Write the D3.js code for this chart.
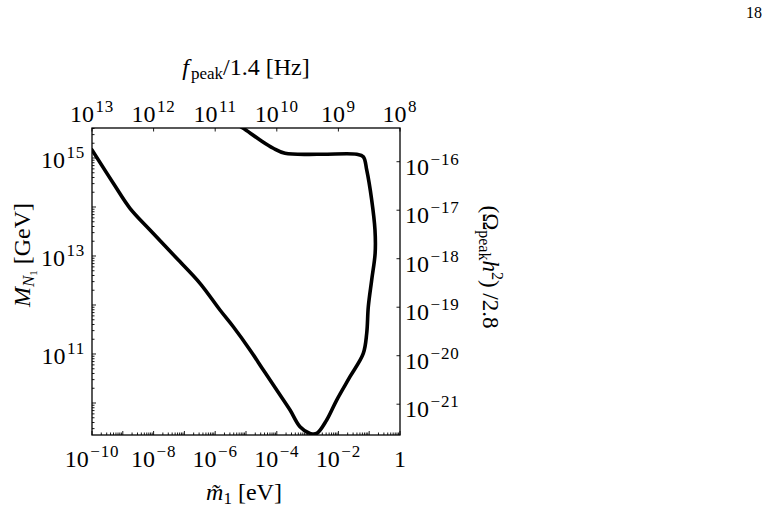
<!DOCTYPE html>
<html>
<head>
<meta charset="utf-8">
<script src="https://cdn.jsdelivr.net/npm/d3@7"></script>
<style>
  html, body { margin: 0; padding: 0; background: #fff; }
  svg { display: block; }
  text { font-family: "Liberation Serif", "DejaVu Serif", serif; fill: #000; }
</style>
</head>
<body>
<svg id="chart" width="772" height="516"></svg>
<script>
// ---- data ----
// contour: m~1 [eV] vs M_N1 [GeV]
const mTilde = [1e-10, 4.92e-10, 1.71e-9, 7.64e-9, 5.62e-8, 3.21e-7, 1.43e-6, 3.87e-6,
  1.35e-5, 3.65e-5, 9.93e-5, 2.69e-4, 5.66e-4, 1.20e-3, 1.97e-3, 4.17e-3, 8.81e-3,
  2.38e-2, 6.43e-2, 8.30e-2, 9.36e-2, 0.1205, 0.156, 0.154, 0.1205, 0.083, 0.0643,
  0.0393, 2.53e-3, 1.85e-4, 7.69e-5, 2.85e-5, 8.17e-6, 5.5e-6];
const massN1 = [1.46e15, 3.05e14, 9.40e13, 3.40e13, 8.98e12, 2.77e12, 7.91e11, 3.60e11,
  1.21e11, 4.71e10, 1.84e10, 7.19e9, 3.28e9, 2.39e9, 2.39e9, 4.50e9, 1.15e10,
  3.44e10, 1.03e11, 2.64e11, 9.23e11, 3.24e12, 1.14e13, 3.40e13, 1.39e14, 5.69e14, 1.06e15,
  1.19e15, 1.19e15, 1.25e15, 1.58e15, 2.33e15, 4.04e15, 4.71e15];

// axis domains & ticks
const xDomain = [1e-10, 1];
const yDomain = [Math.pow(10, 9.347), Math.pow(10, 15.612)];
const fDomain = [1e13, 1e8];
const omegaDomain = [Math.pow(10, -21.635), Math.pow(10, -15.305)];

const bottomTicks = [1e-10, 1e-8, 1e-6, 1e-4, 1e-2, 1];
const bottomTickLabels = ["10^\u221210", "10^\u22128", "10^\u22126", "10^\u22124", "10^\u22122", "1"];
const leftTicks = [1e15, 1e13, 1e11];
const leftTickLabels = ["10^15", "10^13", "10^11"];
const topTicks = [1e13, 1e12, 1e11, 1e10, 1e9, 1e8];
const topTickLabels = ["10^13", "10^12", "10^11", "10^10", "10^9", "10^8"];
const rightTicks = [1e-16, 1e-17, 1e-18, 1e-19, 1e-20, 1e-21];
const rightTickLabels = ["10^\u221216", "10^\u221217", "10^\u221218", "10^\u221219", "10^\u221220", "10^\u221221"];

// ---- layout ----
const L = 92, R = 400, T = 128, B = 435;
const svg = d3.select("#chart");

const x = d3.scaleLog().domain(xDomain).range([L, R]);
const y = d3.scaleLog().domain(yDomain).range([B, T]);
const xf = d3.scaleLog().domain(fDomain).range([L, R]);
const yo = d3.scaleLog().domain(omegaDomain).range([B, T]);

svg.append("rect").attr("width", 772).attr("height", 516).attr("fill", "#fff");

// page number
svg.append("text").attr("x", 762).attr("y", 18).attr("text-anchor", "end")
  .attr("font-size", 16).text("18");

// clip
svg.append("clipPath").attr("id", "plotclip").append("rect")
  .attr("x", L).attr("y", T).attr("width", R - L).attr("height", B - T);

// minor ticks helper
function logTicks(domain) {
  const lo = Math.min(domain[0], domain[1]), hi = Math.max(domain[0], domain[1]);
  const out = [];
  for (let e = Math.floor(Math.log10(lo)); e <= Math.ceil(Math.log10(hi)); e++) {
    for (let k = 1; k <= 9; k++) {
      const v = k * Math.pow(10, e);
      if (v >= lo * 0.9999 && v <= hi * 1.0001) out.push({ v, major: k === 1 });
    }
  }
  return out;
}

const tickG = svg.append("g").attr("stroke", "#000").attr("stroke-width", 0.9);
logTicks(xDomain).forEach(t => {
  const px = x(t.v);
  tickG.append("line").attr("x1", px).attr("x2", px).attr("y1", B).attr("y2", B - (t.major ? 4 : 2.5));
});
logTicks(yDomain).forEach(t => {
  const py = y(t.v);
  tickG.append("line").attr("x1", L).attr("x2", L + (t.major ? 4 : 2.5)).attr("y1", py).attr("y2", py);
});
topTicks.forEach(v => {
  const px = xf(v);
  tickG.append("line").attr("x1", px).attr("x2", px).attr("y1", T).attr("y2", T + 3.5);
});
rightTicks.forEach(v => {
  const py = yo(v);
  tickG.append("line").attr("x1", R).attr("x2", R - 3.5).attr("y1", py).attr("y2", py);
});

// frame
svg.append("rect").attr("x", L).attr("y", T).attr("width", R - L).attr("height", B - T)
  .attr("fill", "none").attr("stroke", "#000").attr("stroke-width", 1.3);

// curve
const line = d3.line().x(d => x(d[0])).y(d => y(d[1])).curve(d3.curveCatmullRom.alpha(0.5));
svg.append("path").attr("clip-path", "url(#plotclip)")
  .datum(mTilde.map((m, i) => [m, massN1[i]]))
  .attr("d", line).attr("fill", "none").attr("stroke", "#000")
  .attr("stroke-width", 3.6).attr("stroke-linejoin", "round").attr("stroke-linecap", "round");

// tick labels
function powLabel(g, str, px, py, anchor) {
  const t = g.append("text").attr("x", px).attr("y", py).attr("text-anchor", anchor)
    .attr("font-size", 24);
  const parts = str.split("^");
  t.append("tspan").text(parts[0]);
  if (parts.length > 1) {
    t.append("tspan").attr("font-size", 17).attr("dy", -10).attr("dx", 1.5)
      .attr("letter-spacing", 0.8).text(parts[1]);
  }
  return t;
}
const lab = svg.append("g");
bottomTicks.forEach((v, i) => powLabel(lab, bottomTickLabels[i], x(v), 467, "middle"));
topTicks.forEach((v, i) => powLabel(lab, topTickLabels[i], xf(v), 122, "middle"));
leftTicks.forEach((v, i) => powLabel(lab, leftTickLabels[i], 85, y(v) + 10, "end"));
rightTicks.forEach((v, i) => powLabel(lab, rightTickLabels[i], 405, yo(v) + 13, "start"));

// axis titles
const bt = svg.append("text").attr("x", 244).attr("y", 500).attr("text-anchor", "middle").attr("font-size", 24);
bt.append("tspan").attr("font-style", "italic").text("m\u0303");
bt.append("tspan").attr("font-size", 17).attr("dy", 4).text("1");
bt.append("tspan").attr("dy", -4).text(" [eV]");

const tt = svg.append("text").attr("x", 246).attr("y", 75).attr("text-anchor", "middle").attr("font-size", 24);
tt.append("tspan").attr("font-style", "italic").text("f");
tt.append("tspan").attr("font-size", 17).attr("dy", 4).attr("dx", 2).text("peak");
tt.append("tspan").attr("dy", -4).text("/1.4 [Hz]");

const lt = svg.append("text").attr("transform", "translate(30,255) rotate(-90)")
  .attr("text-anchor", "middle").attr("font-size", 24);
lt.append("tspan").attr("font-style", "italic").text("M");
lt.append("tspan").attr("font-style", "italic").attr("font-size", 17).attr("dy", 4).text("N");
lt.append("tspan").attr("font-size", 11).attr("dy", 3).text("1");
lt.append("tspan").attr("dy", -7).text(" [GeV]");

const rt = svg.append("text").attr("transform", "translate(483,267) rotate(90)")
  .attr("text-anchor", "middle").attr("font-size", 23);
rt.append("tspan").text("(\u03A9");
rt.append("tspan").attr("font-size", 16).attr("dy", 4).text("peak");
rt.append("tspan").attr("font-style", "italic").attr("dy", -4).text("h");
rt.append("tspan").attr("font-size", 16).attr("dy", -9).text("2");
rt.append("tspan").attr("dy", 9).text(") /2.8");
</script>
</body>
</html>
